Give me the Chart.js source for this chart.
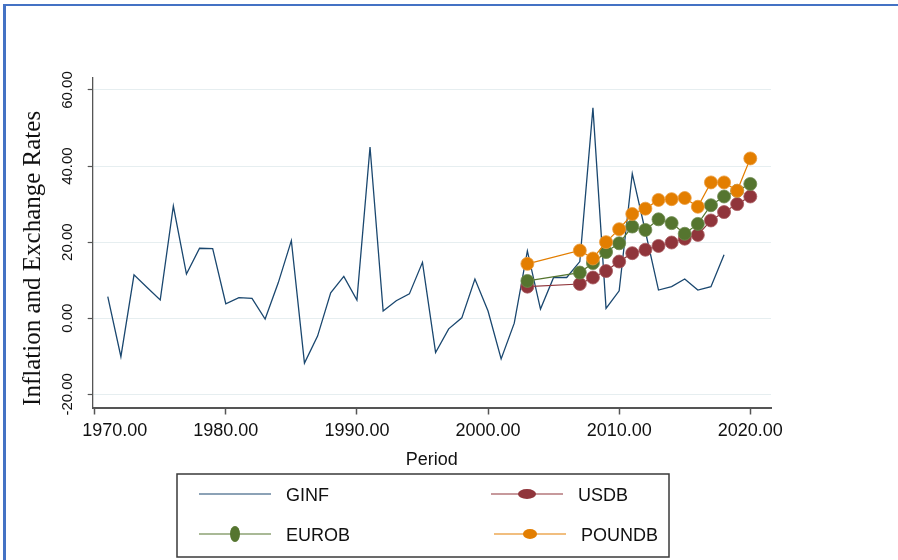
<!DOCTYPE html>
<html>
<head>
<meta charset="utf-8">
<title>Inflation and Exchange Rates</title>
<script src="https://cdn.jsdelivr.net/npm/chart.js@4.4.1/dist/chart.umd.min.js"></script>
<style>
    html, body { margin: 0; padding: 0; background: #fff; }
    #wrap { position: relative; width: 898px; height: 560px; overflow: hidden; }
    #chart { position: absolute; left: 0; top: 0; }
    /* blue frame of the original screenshot (top and left edges only) */
    #frame {
        position: absolute; left: 3px; top: 4px; width: 1000px; height: 1000px;
        border-top: 2px solid #4472c4; border-left: 3px solid #4472c4;
        pointer-events: none;
    }
</style>
</head>
<body>
<div id="wrap">
    <canvas id="chart" width="898" height="560"></canvas>
    <div id="frame"></div>
</div>
<script>
// GINF - yearly inflation
const ginfYears = [1971, 1972, 1973, 1974, 1975, 1976, 1977, 1978, 1979, 1980,
    1981, 1982, 1983, 1984, 1985, 1986, 1987, 1988, 1989, 1990,
    1991, 1992, 1993, 1994, 1995, 1996, 1997, 1998, 1999, 2000,
    2001, 2002, 2003, 2004, 2005, 2006, 2007, 2008, 2009, 2010,
    2011, 2012, 2013, 2014, 2015, 2016, 2017, 2018];
const ginfValues = [5.7, -10.1, 11.4, 8.1, 4.8, 29.5, 11.6, 18.4, 18.3, 3.8,
    5.4, 5.2, -0.2, 9.3, 20.4, -11.8, -4.7, 6.7, 11.0, 4.8,
    45.0, 1.9, 4.6, 6.4, 14.7, -9.0, -2.8, 0.1, 10.3, 1.9,
    -10.7, -1.3, 17.7, 2.4, 10.7, 10.7, 14.9, 55.3, 2.6, 7.2,
    38.0, 22.8, 7.4, 8.3, 10.3, 7.4, 8.3, 16.7];

// exchange rates (no data 2004-2006)
const fxYears = [2003, 2007, 2008, 2009, 2010, 2011, 2012, 2013, 2014, 2015, 2016, 2017, 2018, 2019, 2020];
const usdbValues = [8.3, 9.0, 10.7, 12.4, 14.9, 17.1, 18.0, 19.0, 19.9, 20.9, 21.9, 25.7, 27.9, 30.0, 32.0];
const eurobValues = [9.8, 12.0, 14.5, 17.4, 19.7, 24.1, 23.2, 26.0, 25.0, 22.2, 24.8, 29.7, 32.0, 33.5, 35.3];
const poundbValues = [14.3, 17.8, 15.7, 20.0, 23.4, 27.4, 28.8, 31.1, 31.3, 31.6, 29.3, 35.7, 35.7, 33.5, 42.0];

// axis ticks
const xTickValues = [1970, 1980, 1990, 2000, 2010, 2020];
const yTickValues = [-20, 0, 20, 40, 60];

const SANS = "'Liberation Sans', Arial, sans-serif";
const SERIF = "'Liberation Serif', 'Times New Roman', serif";

function toPoints(xs, ys) {
    return xs.map((x, i) => ({ x: x, y: ys[i] }));
}

/**
 * Legend drawn inside a framed box, two columns, line + marker per entry
 */
const boxLegend = {
    id: 'boxLegend',
    afterDraw(chart, args, opts) {
        const ctx = chart.ctx;
        ctx.save();
        ctx.strokeStyle = '#3a3a3a';
        ctx.lineWidth = 1.5;
        ctx.strokeRect(opts.left, opts.top, opts.width, opts.height);

        ctx.font = '18px ' + SANS;
        ctx.textAlign = 'left';
        ctx.textBaseline = 'middle';

        chart.data.datasets.forEach((ds, i) => {
            const slot = opts.slots[i];
            ctx.strokeStyle = ds.borderColor;
            ctx.lineWidth = 1.2;
            ctx.beginPath();
            ctx.moveTo(slot.x, slot.y);
            ctx.lineTo(slot.x + opts.lineLength, slot.y);
            ctx.stroke();

            if (slot.rx) {
                ctx.fillStyle = ds.pointBackgroundColor;
                ctx.beginPath();
                ctx.ellipse(slot.x + opts.lineLength / 2, slot.y, slot.rx, slot.ry, 0, 0, Math.PI * 2);
                ctx.fill();
            }

            ctx.fillStyle = '#111';
            ctx.fillText(ds.label, slot.x + opts.lineLength + 15, slot.y + 2);
        });
        ctx.restore();
    }
};

const canvas = document.getElementById('chart');

new Chart(canvas, {
    type: 'line',
    data: {
        datasets: [{
            label: 'GINF',
            data: toPoints(ginfYears, ginfValues),
            borderColor: '#1a476f',
            borderWidth: 1.3,
            pointRadius: 0,
            order: 4
        }, {
            label: 'USDB',
            data: toPoints(fxYears, usdbValues),
            borderColor: '#90353b',
            backgroundColor: '#90353b',
            pointBackgroundColor: '#90353b',
            pointBorderColor: '#a85a5f',
            borderWidth: 1.2,
            pointRadius: 6.5,
            pointBorderWidth: 0.8,
            order: 3
        }, {
            label: 'EUROB',
            data: toPoints(fxYears, eurobValues),
            borderColor: '#55752f',
            backgroundColor: '#55752f',
            pointBackgroundColor: '#55752f',
            pointBorderColor: '#6f8a4f',
            borderWidth: 1.2,
            pointRadius: 6.5,
            pointBorderWidth: 0.8,
            order: 2
        }, {
            label: 'POUNDB',
            data: toPoints(fxYears, poundbValues),
            borderColor: '#e37e00',
            backgroundColor: '#e37e00',
            pointBackgroundColor: '#e37e00',
            pointBorderColor: '#eb9a3a',
            borderWidth: 1.2,
            pointRadius: 6.5,
            pointBorderWidth: 0.8,
            order: 1
        }]
    },
    options: {
        responsive: false,
        animation: false,
        devicePixelRatio: 1,
        layout: {
            padding: { left: 0, top: 78, right: 127, bottom: 82.5 }
        },
        scales: {
            x: {
                type: 'linear',
                min: 1969.85,
                max: 2021.58,
                afterBuildTicks: (scale) => { scale.ticks = xTickValues.map(v => ({ value: v })); },
                afterFit: (scale) => { scale.height = 70; },
                grid: {
                    drawOnChartArea: false,
                    drawTicks: true,
                    tickLength: 7,
                    tickColor: '#555',
                    tickWidth: 1.5
                },
                border: { color: '#555', width: 2 },
                ticks: {
                    padding: 6,
                    maxRotation: 0,
                    color: '#111',
                    font: { family: SANS, size: 18 },
                    // the first label sits to the right of its tick in the original
                    callback: (v) => (v === xTickValues[0] ? '        ' : '') + Number(v).toFixed(2)
                },
                title: {
                    display: true,
                    text: 'Period',
                    color: '#111',
                    font: { family: SANS, size: 18 },
                    padding: { top: 0, bottom: 6.7 }
                }
            },
            y: {
                type: 'linear',
                min: -23.47,
                max: 63.15,
                afterBuildTicks: (scale) => { scale.ticks = yTickValues.map(v => ({ value: v })); },
                afterFit: (scale) => { scale.width = 92.7; },
                grid: {
                    color: '#e6eef0',
                    lineWidth: 1,
                    drawTicks: true,
                    tickLength: 5,
                    tickColor: '#555',
                    tickWidth: 1.2
                },
                border: { color: '#555', width: 1.3 },
                ticks: {
                    minRotation: 90,
                    maxRotation: 90,
                    crossAlign: 'center',
                    padding: -1,
                    color: '#111',
                    font: { family: SANS, size: 15 },
                    callback: (v) => Number(v).toFixed(2)
                },
                title: {
                    display: true,
                    // trailing spaces push the rotated title down, as in the original
                    text: 'Inflation and Exchange Rates     ',
                    color: '#111',
                    font: { family: SERIF, size: 25 },
                    padding: { top: 18, bottom: 0 }
                }
            }
        },
        plugins: {
            legend: { display: false },
            tooltip: { enabled: false },
            boxLegend: {
                left: 177,
                top: 474,
                width: 492,
                height: 83,
                lineLength: 72,
                slots: [
                    { x: 199, y: 494 },
                    { x: 491, y: 494, rx: 9, ry: 5 },
                    { x: 199, y: 534, rx: 5, ry: 8 },
                    { x: 494, y: 534, rx: 7, ry: 5 }
                ]
            }
        }
    },
    plugins: [boxLegend]
});
</script>
</body>
</html>
